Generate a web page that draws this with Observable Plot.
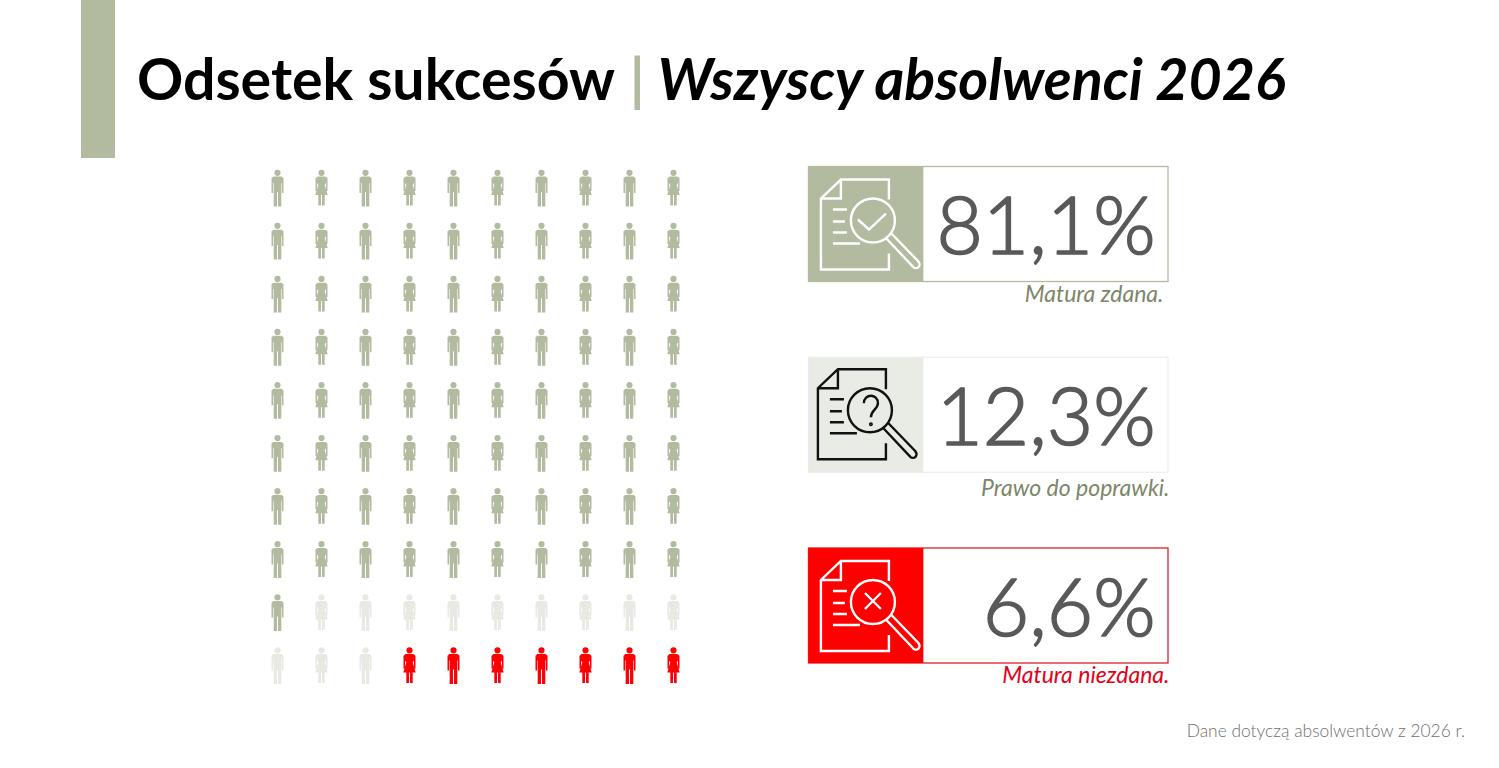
<!DOCTYPE html>
<html lang="pl"><head><meta charset="utf-8">
<script src="https://cdn.jsdelivr.net/npm/d3@7"></script>
<script src="https://cdn.jsdelivr.net/npm/@observablehq/plot@0.6"></script>
<style>
html,body{margin:0;padding:0;background:#fff;font-family:Lato,sans-serif}
#page{position:relative;width:1499px;height:768px;overflow:hidden}
#band{position:absolute;left:81px;top:0;width:34px;height:158px;background:#b2bb9f}
#title{position:absolute;left:137px;top:43px;font-size:57.3px;line-height:70px;font-weight:700;color:#000;white-space:nowrap}
#title .sep{color:#b2bb9f;font-weight:700;margin:0 -1px 0 2px}
#title i{font-style:italic}
#note{position:absolute;right:34px;top:720px;font-size:17.4px;font-weight:300;color:#6f6f6f}
#people,#cards{position:absolute}
#people{left:260px;top:160px}
#cards{left:800px;top:160px}
svg{overflow:visible;background:transparent!important}
</style></head><body>
<div id="page">
<div id="band"></div>
<div id="title"><span id="t1"></span> <span class="sep">|</span> <i id="t2"></i></div>
<div id="people"></div><div id="cards"></div>
<div id="note"></div>
</div>
<script>
const titleMain = "Odsetek sukcesów";
const titleSub = "Wszyscy absolwenci 2026";
const footnote = "Dane dotyczą absolwentów z 2026 r.";
const categories = ["Matura zdana.", "Prawo do poprawki.", "Matura niezdana."];
const percentages = [81.1, 12.3, 6.6];
const peopleCounts = [81, 12, 7];
const statusColors = ["#b2bb9f", "#e7e9e2", "#ff0000"];
const panelColors = ["#b2bb9f", "#e9ebe5", "#ff0000"];
const frameColors = ["#b2bb9f", "#efefef", "#e0202a"];
const iconColors = ["#ffffff", "#111111", "#ffffff"];
const labelColors = ["#7c8768", "#7c8768", "#e3001b"];

document.getElementById("t1").textContent = titleMain;
document.getElementById("t2").textContent = titleSub;
document.getElementById("note").textContent = footnote;

const circle = (c, x, y, r) => { c.moveTo(x + r, y); c.arc(x, y, r, 0, 2 * Math.PI); };
const poly = (c, pts) => { pts.forEach((p, i) => i ? c.lineTo(p[0], p[1]) : c.moveTo(p[0], p[1])); c.closePath(); };

const manSymbol = { draw(c) {
  circle(c, 0, -15.2, 3.1);
  poly(c, [[-4.2,-11.4],[4.2,-11.4],[6,-9.8],[6,5],[4.4,5],[4.4,-5],[3.8,-5],[3.8,18.5],[0.5,18.5],[0.5,4],[-0.5,4],[-0.5,18.5],[-3.8,18.5],[-3.8,-5],[-4.4,-5],[-4.4,5],[-6,5],[-6,-9.8]]);
}};
const womanSymbol = { draw(c) {
  circle(c, 0, -15.2, 3.1);
  poly(c, [[-3.8,-11.4],[3.8,-11.4],[6,-9.8],[6,3],[4.6,3],[4.4,-5],[3.2,-3],[6.2,7],[3.2,7],[3.2,17.5],[0.5,17.5],[0.5,7],[-0.5,7],[-0.5,17.5],[-3.2,17.5],[-3.2,7],[-6.2,7],[-3.2,-3],[-4.4,-5],[-4.6,3],[-6,3],[-6,-9.8]]);
}};

// status of each person, filled row by row
const statuses = peopleCounts.flatMap((n, i) => d3.range(n).map(() => categories[i]));
const persons = statuses.map((status, i) => ({
  status, col: i % 10, row: Math.floor(i / 10), sex: i % 2 ? "k" : "m"
}));

document.getElementById("people").append(Plot.plot({
  width: 440, height: 540, margin: 0, axis: null,
  x: {type: "point", domain: d3.range(10), range: [17, 413], padding: 0, round: false},
  y: {type: "point", domain: d3.range(10), range: [27.5, 505], padding: 0, round: false},
  color: {domain: categories, range: statusColors},
  marks: [
    Plot.dot(persons.filter(d => d.sex === "m"), {x: "col", y: "row", fill: "status", symbol: manSymbol, r: 10, stroke: "none"}),
    Plot.dot(persons.filter(d => d.sex === "k"), {x: "col", y: "row", fill: "status", symbol: womanSymbol, r: 10, stroke: "none"})
  ]
}));

function docPath(c) {
  c.moveTo(22,-25); c.lineTo(22,-45); c.lineTo(-26,-45); c.lineTo(-46,-26); c.lineTo(-46,45); c.lineTo(22,45); c.lineTo(22,29);
  c.moveTo(-26,-45); c.lineTo(-26,-26); c.lineTo(-46,-26);
  [[-15,-20],[-3,-22],[8,-20],[19,-7]].forEach(([y, x]) => { c.moveTo(-34, y); c.lineTo(x, y); });
  circle(c, 6, -4, 22);
  c.moveTo(24.5, 9); c.lineTo(51.5, 37);
  c.arc(49, 40, 3.6, -Math.PI / 4, 3 * Math.PI / 4);
  c.lineTo(19.5, 14);
}
const checkIcon = { draw(c) { docPath(c); c.moveTo(-9,-5); c.lineTo(2,5); c.lineTo(19,-11); }};
const queryIcon = { draw(c) {
  docPath(c);
  c.moveTo(0,-11); c.bezierCurveTo(0,-21,14,-21,14,-11); c.bezierCurveTo(14,-5,7,-4,7,3);
  circle(c, 7, 10, 0.8);
}};
const crossIcon = { draw(c) { docPath(c); c.moveTo(-2,-13); c.lineTo(14,3); c.moveTo(14,-13); c.lineTo(-2,3); }};
const icons = [checkIcon, queryIcon, crossIcon];

const cards = categories.map((name, i) => ({
  name, value: percentages[i], text: percentages[i].toFixed(1).replace(".", ",") + "%",
  panel: panelColors[i], frame: frameColors[i], ink: iconColors[i], labelColor: labelColors[i]
}));

document.getElementById("cards").append(Plot.plot({
  width: 380, height: 540, margin: 0, axis: null,
  x: {type: "linear", domain: [0, 360], range: [8.5, 368]},
  y: {type: "band", domain: categories, range: [6.5, 503], paddingInner: 0.397, paddingOuter: 0, round: false},
  marks: [
    Plot.barX(cards, {x1: () => 0, x2: () => 360, y: "name", fill: "#fff", stroke: "frame", strokeWidth: 1.3}),
    Plot.barX(cards, {x1: () => 0, x2: () => 115, y: "name", fill: "panel"}),
    ...cards.map((d, i) => Plot.dot([d], {x: () => 58, y: "name", symbol: icons[i], r: 10, fill: "none", stroke: "ink", strokeWidth: 2.4, dx: i === 1 ? -3 : 0, dy: i === 1 ? -1 : 0})),
    Plot.text(cards, {x: () => 347, y: "name", text: "text", textAnchor: "end", fontSize: 80, fontWeight: 300, fontFamily: "Lato", fill: "#595959", stroke: "#595959", strokeWidth: 1.7, dy: 4}),
    ...cards.map((d, i) => Plot.text([d], {x: () => i === 0 ? 355 : 361, y: "name", text: "name", textAnchor: "end", fontSize: 23, fontStyle: "italic", fontWeight: 400, fontFamily: "Lato", fill: "labelColor", dy: [70, 73, 70][i]}))
  ]
}));
</script>
</body></html>
